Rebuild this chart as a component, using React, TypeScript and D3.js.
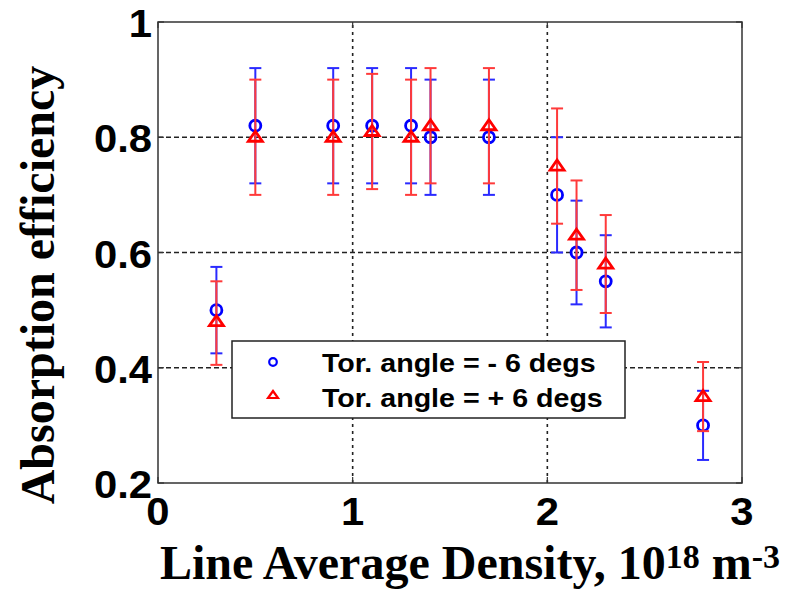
import React, { useRef, useEffect } from "react";
import * as d3 from "d3";

// line average density (1e18 m^-3)
const densities = [0.3, 0.5, 0.9, 1.1, 1.3, 1.4, 1.7, 2.05, 2.15, 2.3, 2.8];

// Tor. angle = -6 degs
const negEff = [0.5, 0.82, 0.82, 0.82, 0.82, 0.8, 0.8, 0.7, 0.6, 0.55, 0.3];
const negLow = [0.425, 0.72, 0.72, 0.72, 0.72, 0.7, 0.7, 0.6, 0.51, 0.47, 0.24];
const negHigh = [0.575, 0.92, 0.92, 0.92, 0.92, 0.9, 0.9, 0.8, 0.69, 0.63, 0.36];

// Tor. angle = +6 degs
const posEff = [0.48, 0.8, 0.8, 0.81, 0.8, 0.82, 0.82, 0.75, 0.63, 0.58, 0.35];
const posLow = [0.405, 0.7, 0.7, 0.71, 0.7, 0.72, 0.72, 0.65, 0.535, 0.495, 0.29];
const posHigh = [0.55, 0.9, 0.9, 0.91, 0.9, 0.92, 0.92, 0.85, 0.725, 0.665, 0.41];

const xTicks = [0, 1, 2, 3];
const yTicks = [0.2, 0.4, 0.6, 0.8, 1];
const legendLabels = ["Tor. angle = - 6 degs", "Tor. angle = + 6 degs"];

const width = 802;
const height = 591;
const margin = { top: 22, right: 60, bottom: 108, left: 158 };

const AbsorptionChart = () => {
  const d3Container = useRef(null);

  useEffect(() => {
    d3.select(d3Container.current).selectAll("*").remove();

    const svg = d3
      .select(d3Container.current)
      .attr("width", width)
      .attr("height", height);

    const x = d3
      .scaleLinear()
      .domain([0, 3])
      .range([margin.left, width - margin.right]);
    const y = d3
      .scaleLinear()
      .domain([0.2, 1])
      .range([height - margin.bottom, margin.top]);

    const [x0, x1] = x.range();
    const [y0, y1] = y.range();

    svg.append("rect").attr("width", width).attr("height", height).attr("fill", "white");

    // grid lines
    const grid = svg.append("g");
    grid
      .selectAll("line.gx")
      .data(xTicks.filter((t) => t > 0 && t < 3))
      .enter()
      .append("line")
      .attr("x1", (d) => x(d))
      .attr("x2", (d) => x(d))
      .attr("y1", y0)
      .attr("y2", y1)
      .attr("stroke", "#222")
      .attr("stroke-width", 1.6)
      .attr("stroke-dasharray", "3,4");
    grid
      .selectAll("line.gy")
      .data(yTicks.filter((t) => t > 0.2 && t < 1))
      .enter()
      .append("line")
      .attr("x1", x0)
      .attr("x2", x1)
      .attr("y1", (d) => y(d))
      .attr("y2", (d) => y(d))
      .attr("stroke", "#222")
      .attr("stroke-width", 1.6)
      .attr("stroke-dasharray", "5,3");

    // frame
    svg
      .append("rect")
      .attr("x", x0)
      .attr("y", y1)
      .attr("width", x1 - x0)
      .attr("height", y0 - y1)
      .attr("fill", "none")
      .attr("stroke", "#333")
      .attr("stroke-width", 1.5);

    // inward ticks
    const ticks = svg.append("g").attr("stroke", "#333").attr("stroke-width", 1.2);
    xTicks.forEach((t) => {
      ticks.append("line").attr("x1", x(t)).attr("x2", x(t)).attr("y1", y0).attr("y2", y0 - 6);
      ticks.append("line").attr("x1", x(t)).attr("x2", x(t)).attr("y1", y1).attr("y2", y1 + 6);
    });
    yTicks.forEach((t) => {
      ticks.append("line").attr("x1", x0).attr("x2", x0 + 6).attr("y1", y(t)).attr("y2", y(t));
      ticks.append("line").attr("x1", x1).attr("x2", x1 - 6).attr("y1", y(t)).attr("y2", y(t));
    });

    // tick labels (the original font is a little wider than Arial)
    const tickFont = "'Liberation Sans', Arial, sans-serif";
    svg
      .selectAll("text.xt")
      .data(xTicks)
      .enter()
      .append("text")
      .attr("transform", (d) => `translate(${x(d)}, ${y0 + 42}) scale(1.1, 1)`)
      .attr("text-anchor", "middle")
      .attr("font-family", tickFont)
      .attr("font-weight", "bold")
      .attr("font-size", 38)
      .text((d) => String(d));
    svg
      .selectAll("text.yt")
      .data(yTicks)
      .enter()
      .append("text")
      .attr("transform", (d) => `translate(${x0 - 6}, ${y(d) + 15}) scale(1.1, 1)`)
      .attr("text-anchor", "end")
      .attr("font-family", tickFont)
      .attr("font-weight", "bold")
      .attr("font-size", 38)
      .text((d) => String(d));

    // axis titles
    const titleFont = "'Liberation Serif', 'Times New Roman', serif";
    svg
      .append("text")
      .attr("transform", `translate(54, 285) rotate(-90)`)
      .attr("text-anchor", "middle")
      .attr("font-family", titleFont)
      .attr("font-weight", "bold")
      .attr("font-size", 48)
      .text("Absorption efficiency");

    const xt = svg
      .append("text")
      .attr("x", 160)
      .attr("y", 579)
      .attr("font-family", titleFont)
      .attr("font-weight", "bold")
      .attr("font-size", 48);
    xt.append("tspan").text("Line Average Density, 10");
    xt.append("tspan").attr("font-size", 34).attr("dy", -11).text("18");
    xt.append("tspan").attr("font-size", 48).attr("dy", 11).text(" m");
    xt.append("tspan").attr("font-size", 34).attr("dy", -11).text("-3");

    // error bar series
    const drawSeries = (
      eff: number[],
      lo: number[],
      hi: number[],
      lineColor: string,
      markColor: string,
      marker: string
    ) => {
      const g = svg.append("g");
      densities.forEach((d, i) => {
        const cx = x(d);
        g.append("line")
          .attr("x1", cx)
          .attr("x2", cx)
          .attr("y1", y(lo[i]))
          .attr("y2", y(hi[i]))
          .attr("stroke", lineColor)
          .attr("stroke-width", 2);
        [lo[i], hi[i]].forEach((v) => {
          g.append("line")
            .attr("x1", cx - 6)
            .attr("x2", cx + 6)
            .attr("y1", y(v))
            .attr("y2", y(v))
            .attr("stroke", lineColor)
            .attr("stroke-width", 2);
        });
      });
      densities.forEach((d, i) => {
        const cx = x(d);
        const cy = y(eff[i]);
        if (marker === "circle") {
          g.append("circle")
            .attr("cx", cx)
            .attr("cy", cy)
            .attr("r", 5.5)
            .attr("fill", "none")
            .attr("stroke", markColor)
            .attr("stroke-width", 2.8);
        } else {
          g.append("path")
            .attr("d", `M${cx},${cy - 6}L${cx + 7},${cy + 4}L${cx - 7},${cy + 4}Z`)
            .attr("fill", "none")
            .attr("stroke", markColor)
            .attr("stroke-width", 2.8);
        }
      });
    };

    drawSeries(negEff, negLow, negHigh, "#2a2aff", "#0000ff", "circle");
    drawSeries(posEff, posLow, posHigh, "#ff3a3a", "#ff0000", "triangle");

    // legend
    const legend = svg.append("g").attr("transform", "translate(232, 341)");
    legend
      .append("rect")
      .attr("width", 393)
      .attr("height", 77)
      .attr("fill", "white")
      .attr("stroke", "#222")
      .attr("stroke-width", 1.5);
    legend
      .append("circle")
      .attr("cx", 41)
      .attr("cy", 21)
      .attr("r", 3.8)
      .attr("fill", "none")
      .attr("stroke", "#0000ff")
      .attr("stroke-width", 2.2);
    legend
      .append("path")
      .attr("d", "M41,50L46,57L36,57Z")
      .attr("fill", "none")
      .attr("stroke", "#ff0000")
      .attr("stroke-width", 2.2);
    legend
      .selectAll("text")
      .data(legendLabels)
      .enter()
      .append("text")
      .attr("transform", (d, i) => `translate(90, ${31 + i * 35}) scale(1.1, 1)`)
      .attr("font-family", tickFont)
      .attr("font-weight", "bold")
      .attr("font-size", 26)
      .text((d) => d);
  }, []);

  return <svg ref={d3Container} style={{ position: "absolute", left: 0, top: 0 }}></svg>;
};

export default function App() {
  return <AbsorptionChart />;
}
